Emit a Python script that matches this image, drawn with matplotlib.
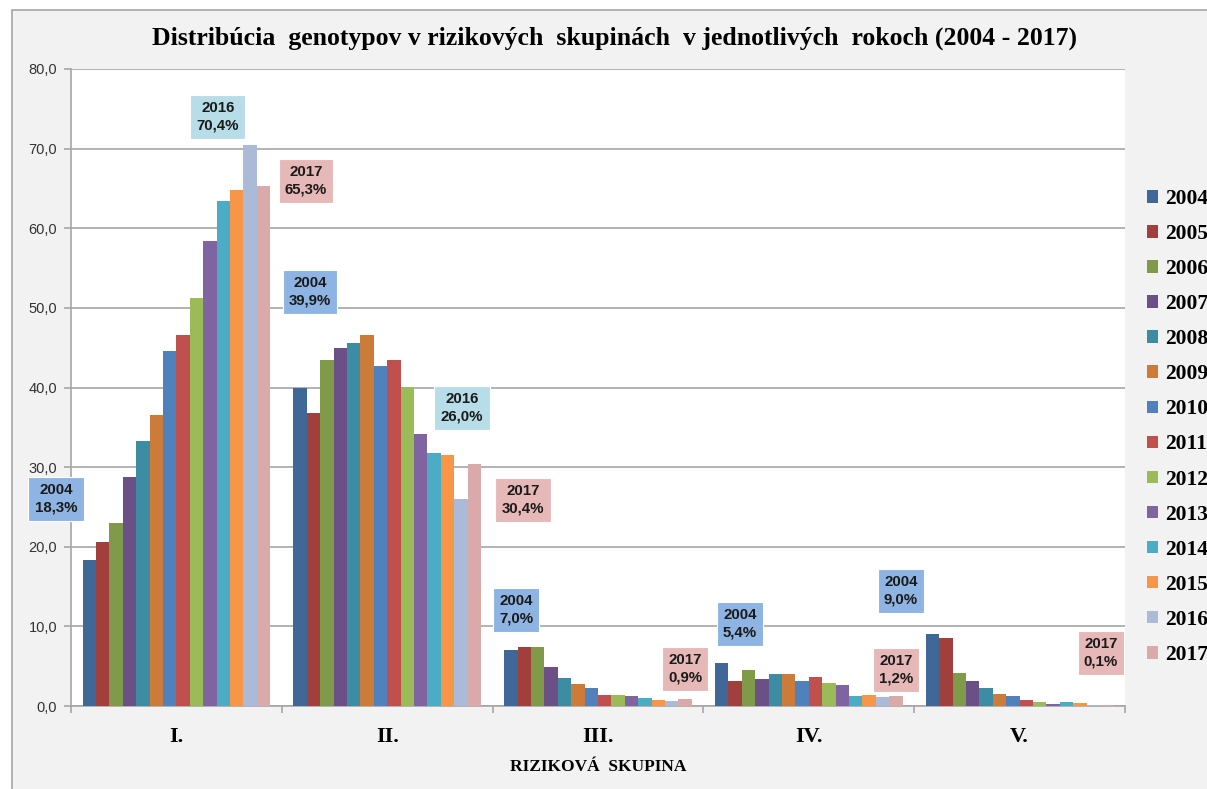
import matplotlib
matplotlib.use("Agg")
import matplotlib.pyplot as plt
from matplotlib.patches import Rectangle, Patch
import numpy as np

# ---------------- data ----------------
categories = ["I.", "II.", "III.", "IV.", "V."]
years = ["2004", "2005", "2006", "2007", "2008", "2009", "2010",
         "2011", "2012", "2013", "2014", "2015", "2016", "2017"]
# values[year] = shares (%) in groups I..V
v2004 = [18.3, 39.9, 7.0, 5.4, 9.0]
v2005 = [20.6, 36.8, 7.4, 3.2, 8.5]
v2006 = [23.0, 43.5, 7.4, 4.5, 4.1]
v2007 = [28.8, 45.0, 4.9, 3.4, 3.2]
v2008 = [33.3, 45.6, 3.5, 4.0, 2.3]
v2009 = [36.5, 46.6, 2.8, 4.0, 1.5]
v2010 = [44.6, 42.7, 2.3, 3.1, 1.2]
v2011 = [46.6, 43.5, 1.4, 3.7, 0.8]
v2012 = [51.2, 40.1, 1.4, 2.9, 0.45]
v2013 = [58.4, 34.2, 1.2, 2.6, 0.2]
v2014 = [63.4, 31.8, 1.0, 1.25, 0.45]
v2015 = [64.8, 31.5, 0.75, 1.4, 0.35]
v2016 = [70.4, 26.0, 0.6, 1.1, 0.15]
v2017 = [65.3, 30.4, 0.9, 1.2, 0.1]
series = [v2004, v2005, v2006, v2007, v2008, v2009, v2010,
          v2011, v2012, v2013, v2014, v2015, v2016, v2017]
yticks = [0, 10, 20, 30, 40, 50, 60, 70, 80]

# annotated bars: (group index, year index)
ann_group = [0, 0, 0, 1, 1, 1, 2, 2, 3, 4, 3, 4]
ann_year = [0, 12, 13, 0, 12, 13, 0, 13, 0, 0, 13, 13]

# ---------------- style ----------------
colors = ["#3F6797", "#A03F3C", "#7F9A48", "#6A5087", "#3C8DA3", "#CC7B38",
          "#4F81BD", "#C0504D", "#9BBB59", "#8064A2", "#4BACC6", "#F79646",
          "#AABAD7", "#D9AAA9"]
box_colors = {0: "#8EB4E3", 12: "#B7DEE8", 13: "#E6B9B8"}
# label box centers (data coords)
ann_pos = [(-0.571, 26.0), (0.197, 73.97), (0.615, 65.93),
           (0.634, 52.0), (1.355, 37.43), (1.644, 25.87),
           (1.611, 12.06), (2.413, 4.65),
           (2.674, 10.30), (3.437, 14.44), (3.414, 4.52), (4.386, 6.66)]

W, H = 1207, 789
fig = plt.figure(figsize=(W / 100, H / 100), dpi=100)
fig.patch.set_facecolor("white")

# chart area frame
frame = Rectangle((12 / W, -0.05), 1.1, 1 - 10 / H + 0.05,
                  transform=fig.transFigure, facecolor="#F2F2F2",
                  edgecolor="#A6A6A6", linewidth=1.2, zorder=-5)
fig.patches.append(frame)

ax = fig.add_axes([71 / W, 1 - 706 / H, (1125 - 71) / W, (706 - 69) / H])
ax.set_zorder(2)
ax.set_facecolor("white")

n = len(years)
group_w = 0.89
bw = group_w / n
x = np.arange(len(categories))
for j, (yr, vals) in enumerate(zip(years, series)):
    ax.bar(x + (j - (n - 1) / 2) * bw, vals, width=bw, color=colors[j],
           label=yr, zorder=3, linewidth=0)

ax.set_xlim(-0.5, len(categories) - 0.5)
ax.set_ylim(0, 80)
ax.set_yticks(yticks)
ax.set_yticklabels([f"{v:.1f}".replace(".", ",") for v in yticks],
                   fontsize=10.5, color="#333333", family="Liberation Sans")
ax.yaxis.grid(True, color="#A6A6A6", linewidth=1.2, zorder=0)
ax.set_axisbelow(True)

ax.set_xticks(np.arange(len(categories) + 1) - 0.5)
ax.set_xticklabels([])
ax.set_xticks(x, minor=True)
ax.set_xticklabels(categories, minor=True, fontsize=16, fontweight="bold",
                   family="Liberation Serif")
ax.tick_params(axis="x", which="minor", length=0, pad=15)
ax.tick_params(axis="x", which="major", length=5, color="#A6A6A6", width=1.2)
ax.tick_params(axis="y", length=5, color="#A6A6A6", width=1.2, pad=5)

for s in ["top", "right"]:
    ax.spines[s].set_visible(False)
for s in ["left", "bottom"]:
    ax.spines[s].set_color("#A6A6A6")
    ax.spines[s].set_linewidth(1.2)

ax.set_xlabel("RIZIKOVÁ  SKUPINA", fontsize=12.5, fontweight="bold",
              family="Liberation Serif", labelpad=9)

fig.text(615 / W, 1 - 38 / H,
         "Distribúcia  genotypov v rizikových  skupinách  v jednotlivých  rokoch (2004 - 2017)",
         ha="center", va="center", fontsize=18.5, fontweight="bold",
         family="Liberation Serif")

# annotations
for g, yi, (px, py) in zip(ann_group, ann_year, ann_pos):
    val = series[yi][g]
    txt = f"{years[yi]}\n{val:.1f}".replace(".", ",") + "%"
    ax.text(px, py, txt, ha="center", va="center", fontsize=10.8,
            fontweight="bold", family="Liberation Sans", color="#1A1A1A",
            linespacing=1.3, zorder=6, clip_on=False,
            bbox=dict(boxstyle="square,pad=0.42", fc=box_colors[yi],
                      ec="white", lw=0.8))

# legend
handles = [Patch(facecolor=c, edgecolor="none") for c in colors]
leg = fig.legend(handles, years, loc="upper left",
                 bbox_to_anchor=(1147 / W, 1 - 189 / H),
                 frameon=False, borderpad=0, borderaxespad=0,
                 handlelength=0.52, handleheight=0.52, handletextpad=0.3,
                 labelspacing=0.70,
                 prop=dict(family="Liberation Serif", weight="bold", size=15.5))

fig.savefig("out.png", dpi=100)
